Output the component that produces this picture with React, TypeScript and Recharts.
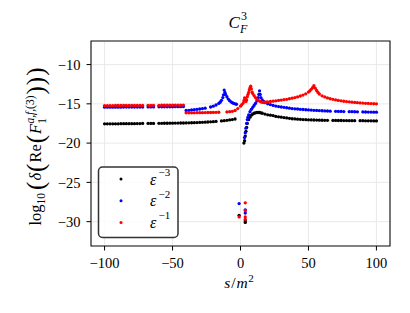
import React from 'react';
import { ScatterChart, Scatter, XAxis, YAxis, CartesianGrid, ReferenceArea } from 'recharts';

const xTicks = [-100, -50, 0, 50, 100];
const yTicks = [-30, -25, -20, -15, -10];

const blackS = [-100,-98,-96,-94,-92,-90,-88,-86,-84,-82,-80,-78,-76,-74,-72,-68,-66,-64,-60,-58,-56,-54,-52,-50,-48,-46,-44,-42,
  -40,-38,-36,-34,-32,-30,-28,-26,-24,-22,-20,-18,-14,-12,-10,-8,-6,-4,
  2.5,3,3.5,4,4.5,5,6,7,8,9,10,11,12,13,14,15,16,18,20,22,24,26,28,30,32,34,36,38,40,42,44,46,48,50,52,54,56,58,60,62,64,68,70,72,74,76,78,80,82,84,88,90,92,94,96,98,100,
  -1,3.5,3.5];
const blackV = [-17.55,-17.55,-17.55,-17.54,-17.54,-17.54,-17.53,-17.53,-17.53,-17.52,-17.52,-17.52,-17.51,-17.51,-17.5,-17.5,-17.49,-17.49,-17.48,-17.48,-17.47,-17.47,-17.46,-17.46,-17.45,-17.45,-17.44,-17.44,
  -17.43,-17.42,-17.41,-17.4,-17.38,-17.37,-17.35,-17.33,-17.31,-17.29,-17.27,-17.24,-17.18,-17.14,-17.1,-17.05,-17.0,-16.93,
  -20.0,-19.7,-19.1,-18.5,-18.0,-17.5,-17.0,-16.7,-16.45,-16.3,-16.2,-16.15,-16.1,-16.1,-16.1,-16.15,-16.2,-16.3,-16.4,-16.45,-16.5,-16.6,-16.65,-16.7,-16.75,-16.8,-16.85,-16.9,-16.92,-16.95,-16.97,-17.0,-17.02,-17.04,-17.05,-17.06,-17.07,-17.08,-17.09,-17.1,-17.1,-17.11,-17.11,-17.12,-17.12,-17.13,-17.13,-17.14,-17.14,-17.15,-17.15,-17.15,-17.16,-17.16,-17.16,-17.17,-17.17,
  -29.2,-29.9,-30.1];

const blueS = [-100,-98,-96,-94,-92,-90,-88,-86,-84,-82,-80,-78,-76,-74,-72,-68,-66,-64,-60,-58,-56,-54,-52,-50,-48,-46,-44,-42,
  -40,-38,-36,-34,-32,-30,-28,-26,-22,-20,-18,-16,-15,-14,-13,-12.5,-12,-11.5,-11,-10,-9,-8,-7,-6,-5,-4,-3,
  3,3.5,4,4.5,5,5.5,6,7,8,9,10,11,12,13,13.5,14,14.5,15,16,17,18,20,22,24,26,28,30,32,34,36,38,40,42,44,46,48,50,52,54,56,58,60,62,64,66,70,72,74,76,80,82,84,86,90,92,94,96,98,100,
  -1,3.5,3.5];
const blueV = [-15.43,-15.43,-15.43,-15.42,-15.42,-15.42,-15.42,-15.41,-15.41,-15.41,-15.41,-15.4,-15.4,-15.4,-15.4,-15.39,-15.39,-15.39,-15.38,-15.38,-15.38,-15.37,-15.37,-15.37,-15.36,-15.36,-15.36,-15.35,
  -15.85,-15.82,-15.78,-15.74,-15.7,-15.66,-15.6,-15.55,-15.4,-15.3,-15.15,-14.95,-14.8,-14.55,-14.2,-13.85,-13.25,-13.55,-13.8,-14.1,-14.4,-14.6,-14.75,-14.85,-14.95,-15.0,-15.05,
  -19.3,-18.7,-18.1,-17.5,-17.0,-16.7,-16.4,-16.0,-15.7,-15.45,-15.2,-14.95,-14.65,-14.2,-13.8,-13.35,-13.8,-14.2,-14.5,-14.7,-14.85,-15.0,-15.1,-15.2,-15.28,-15.35,-15.4,-15.45,-15.5,-15.55,-15.6,-15.63,-15.66,-15.7,-15.72,-15.75,-15.78,-15.8,-15.82,-15.84,-15.86,-15.88,-15.9,-15.91,-15.93,-15.95,-15.96,-15.97,-15.98,-16.0,-16.0,-16.01,-16.02,-16.03,-16.04,-16.05,-16.05,-16.06,-16.06,
  -27.7,-28.5,-28.9];

const redS = [-100,-98,-96,-94,-92,-90,-88,-86,-84,-82,-80,-78,-76,-74,-72,-68,-66,-64,-60,-58,-56,-54,-52,-50,-48,-46,-44,-42,
  -40,-38,-36,-34,-32,-30,-28,-26,-24,-22,-20,-18,-16,-10,-8,-6,-4,-2,
  0,1,2,2.5,3,3.5,4,4.5,5,5.5,6,6.5,7,7.5,8,8.5,9,10,11,12,13,14,15,16,17,18,19,20,22,24,26,28,30,32,34,36,38,40,42,44,46,48,50,51,52,53,54,55,56,57,58,60,62,64,66,68,70,72,74,76,78,80,82,84,86,88,90,92,94,96,98,100,
  -1,3.5,3.5,3.5,3.5];
const redV = [-15.22,-15.22,-15.22,-15.22,-15.21,-15.21,-15.21,-15.21,-15.21,-15.2,-15.2,-15.2,-15.2,-15.2,-15.2,-15.19,-15.19,-15.19,-15.19,-15.18,-15.18,-15.18,-15.18,-15.17,-15.17,-15.17,-15.17,-15.16,
  -16.15,-16.15,-16.14,-16.14,-16.13,-16.12,-16.12,-16.11,-16.1,-16.1,-16.09,-16.08,-16.07,-16.03,-16.0,-15.95,-15.85,-15.6,
  -15.3,-15.1,-14.9,-14.6,-14.25,-14.4,-14.7,-14.5,-14.1,-13.8,-13.55,-13.2,-12.95,-12.75,-13.1,-13.5,-13.7,-13.95,-14.2,-14.4,-14.55,-14.65,-14.75,-14.8,-14.82,-14.8,-14.78,-14.75,-14.7,-14.66,-14.62,-14.57,-14.52,-14.47,-14.42,-14.35,-14.28,-14.2,-14.12,-14.0,-13.88,-13.72,-13.5,-13.35,-13.15,-12.95,-12.7,-13.0,-13.3,-13.55,-13.75,-13.98,-14.12,-14.25,-14.35,-14.43,-14.5,-14.56,-14.62,-14.67,-14.71,-14.75,-14.79,-14.82,-14.85,-14.88,-14.9,-14.93,-14.95,-14.97,-14.99,-15.0,
  -29.4,-27.6,-28.6,-29.4,-29.7];

const toPts = (s: number[], v: number[]) => s.map((x, i) => ({ s: x, v: v[i] }));
const blackData = toPts(blackS, blackV);
const blueData = toPts(blueS, blueV);
const redData = toPts(redS, redV);

const FONT = "'Liberation Serif', 'DejaVu Serif', serif";
const fmt = (v: number) => (v < 0 ? `\u2212${Math.abs(v)}` : `${v}`);
const dot = (color: string) => (p: any) => <circle cx={p.cx} cy={p.cy} r={1.65} fill={color} />;

const legendItems = [
  { color: '#000000', exp: '\u22123' },
  { color: '#0000ff', exp: '\u22122' },
  { color: '#ff0000', exp: '\u22121' },
];

export default function App() {
  const tickStyle = { fontFamily: FONT, fontSize: 14.5, fill: '#000' };
  return (
    <div style={{ position: 'relative', width: 410, height: 313, background: '#fff' }}>
      <style>{`body{margin:0}`}</style>
      <ScatterChart width={410} height={313} margin={{ top: 41, right: 20, bottom: 37, left: 31 }}>
        <CartesianGrid stroke="#e6e6e6" strokeWidth={0.9} />
        <XAxis type="number" dataKey="s" domain={[-110, 110]} ticks={xTicks} tickFormatter={fmt}
          height={30} axisLine={false} tickSize={4.5} tickMargin={7} tickLine={{ stroke: '#000' }} tick={tickStyle} />
        <YAxis type="number" dataKey="v" domain={[-33.1, -7]} ticks={yTicks} tickFormatter={fmt}
          width={60} axisLine={false} tickSize={4.5} tickMargin={6} tickLine={{ stroke: '#000' }} tick={tickStyle} />
        <Scatter data={blackData} fill="#000" shape={dot('#000000')} isAnimationActive={false} />
        <Scatter data={blueData} fill="#00f" shape={dot('#0000ff')} isAnimationActive={false} />
        <Scatter data={redData} fill="#f00" shape={dot('#ff0000')} isAnimationActive={false} />
        <ReferenceArea x1={-110} x2={110} y1={-33.1} y2={-7} fill="none" fillOpacity={0} stroke="#111" strokeWidth={1.1} ifOverflow="visible" />
      </ScatterChart>
      <svg width={410} height={313} style={{ position: 'absolute', left: 0, top: 0, pointerEvents: 'none' }}
        fontFamily={FONT}>
        <text x={228.5} y={28} fontSize={17} fontStyle="italic">C</text>
        <text x={241} y={19.5} fontSize={12}>3</text>
        <text x={240} y={32.5} fontSize={12} fontStyle="italic">F</text>

        <text x={239} y={288} fontSize={15.5} textAnchor="middle">
          <tspan fontStyle="italic">s</tspan>
          <tspan dx={1}>/</tspan>
          <tspan fontStyle="italic" dx={1}>m</tspan>
          <tspan fontSize={11} dy={-6} dx={0.5}>2</tspan>
        </text>

        <text x={0} y={0} transform="translate(41,146) rotate(-90)" textAnchor="middle" fontSize={16.5}>
          <tspan>log</tspan>
          <tspan fontSize={11.5} dy={4}>10</tspan>
          <tspan fontSize={25} dy={-1} dx={3}>(</tspan>
          <tspan fontStyle="italic" dy={-3} dx={1}>δ</tspan>
          <tspan fontSize={25} dy={3} dx={1}>(</tspan>
          <tspan dy={-3} dx={1}>Re</tspan>
          <tspan fontSize={25} dy={3} dx={1}>(</tspan>
          <tspan fontStyle="italic" dy={-3} dx={1}>F</tspan>
          <tspan fontSize={11.5} dy={4.5}>1</tspan>
          <tspan fontSize={11.5} fontStyle="italic" dx={-5.5} dy={-12}>a,f,</tspan>
          <tspan fontSize={11.5}>(3)</tspan>
          <tspan fontSize={25} dy={10.5} dx={1} letterSpacing={1}>)))</tspan>
        </text>

        <rect x={98.5} y={167} width={79.5} height={70.5} rx={4} fill="#fff" fillOpacity={0.85} stroke="#333" strokeWidth={1.5} />
        {legendItems.map((it, i) => {
          const cy = 179 + i * 21.7;
          return (
            <g key={i}>
              <circle cx={121} cy={cy} r={1.5} fill={it.color} />
              <text x={150} y={cy + 5.5} fontSize={16} fontStyle="italic">ε</text>
              <text x={158.5} y={cy - 3} fontSize={11}>{it.exp}</text>
            </g>
          );
        })}
      </svg>
    </div>
  );
}
